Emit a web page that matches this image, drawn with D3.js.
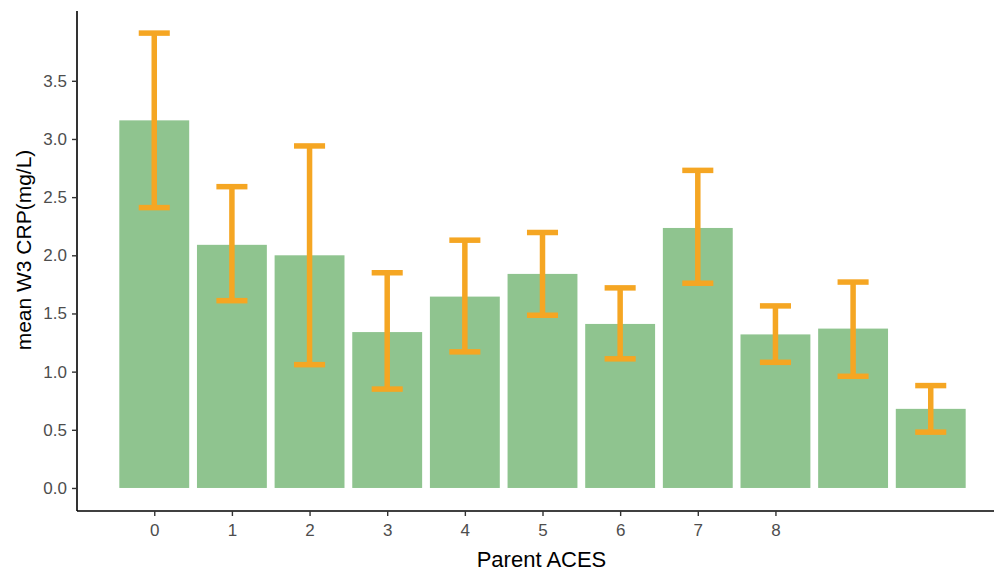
<!DOCTYPE html>
<html>
<head>
<meta charset="utf-8">
<script src="https://cdn.jsdelivr.net/npm/d3@7"></script>
<style>
  html, body { margin: 0; padding: 0; background: #fff; }
  svg { display: block; font-family: "Liberation Sans", Arial, sans-serif; }
</style>
</head>
<body>
<svg id="chart" width="994" height="576"></svg>
<script>
// Parent ACES score (0..10) with mean CRP and its error range
const aces = [0, 1, 2, 3, 4, 5, 6, 7, 8, 9, 10];
const meanCRP = [3.16, 2.09, 2.00, 1.34, 1.645, 1.84, 1.41, 2.235, 1.32, 1.37, 0.68];
const lowerCRP = [2.41, 1.61, 1.06, 0.85, 1.17, 1.485, 1.11, 1.76, 1.08, 0.96, 0.48];
const upperCRP = [3.91, 2.59, 2.94, 1.85, 2.13, 2.195, 1.72, 2.73, 1.565, 1.77, 0.88];
const xTicks = [0, 1, 2, 3, 4, 5, 6, 7, 8];
const yTicks = [0.0, 0.5, 1.0, 1.5, 2.0, 2.5, 3.0, 3.5];

const svg = d3.select("#chart");
const plotLeft = 77, plotRight = 1008, plotTop = 11, plotBottom = 511;

const x = d3.scaleLinear().domain([-0.995, 10.995]).range([plotLeft, plotRight]);
const y = d3.scaleLinear().domain([-0.198, 4.1]).range([plotBottom, plotTop]);

const barW = x(0.9) - x(0);
const capW = x(0.4) - x(0);

// bars
svg.append("g").selectAll("rect").data(aces).join("rect")
  .attr("x", (d) => x(d) - barW / 2)
  .attr("width", barW)
  .attr("y", (d, i) => y(meanCRP[i]))
  .attr("height", (d, i) => y(0) - y(meanCRP[i]))
  .attr("fill", "#8fc48f");

// error bars
const eb = svg.append("g")
  .attr("stroke", "#f5a623")
  .attr("stroke-width", 5.5)
  .attr("fill", "none");
aces.forEach((d, i) => {
  eb.append("line")
    .attr("x1", x(d)).attr("x2", x(d))
    .attr("y1", y(lowerCRP[i])).attr("y2", y(upperCRP[i]));
  [lowerCRP[i], upperCRP[i]].forEach((v) => {
    eb.append("line")
      .attr("x1", x(d) - capW / 2).attr("x2", x(d) + capW / 2)
      .attr("y1", y(v)).attr("y2", y(v));
  });
});

// axes
const yAxis = svg.append("g")
  .attr("transform", `translate(${plotLeft},0)`)
  .call(d3.axisLeft(y).tickValues(yTicks).tickFormat(d3.format(".1f")).tickSize(5).tickPadding(5))
  .call((g) => g.select(".domain").attr("d", `M0,${plotTop}V${plotBottom}`));
const xAxis = svg.append("g")
  .attr("transform", `translate(0,${plotBottom})`)
  .call(d3.axisBottom(x).tickValues(xTicks).tickFormat(d3.format("d")).tickSize(5).tickPadding(8))
  .call((g) => g.select(".domain").attr("d", `M${plotLeft},0H${plotRight}`));

[yAxis, xAxis].forEach((g) => {
  g.select(".domain").attr("stroke", "#000").attr("stroke-width", 1.6);
  g.selectAll(".tick line").attr("stroke", "#333").attr("stroke-width", 1.4);
  g.selectAll(".tick text").attr("fill", "#4d4d4d").attr("font-size", 17)
    .attr("font-family", "Liberation Sans, Arial, sans-serif");
});

// axis titles
svg.append("text")
  .attr("x", (plotLeft + plotRight) / 2 - 1).attr("y", 567)
  .attr("text-anchor", "middle")
  .attr("font-size", 22).attr("fill", "#000")
  .text("Parent ACES");
svg.append("text")
  .attr("transform", "translate(31,250) rotate(-90)")
  .attr("text-anchor", "middle")
  .attr("font-size", 21).attr("fill", "#000")
  .text("mean W3 CRP(mg/L)");
</script>
</body>
</html>
